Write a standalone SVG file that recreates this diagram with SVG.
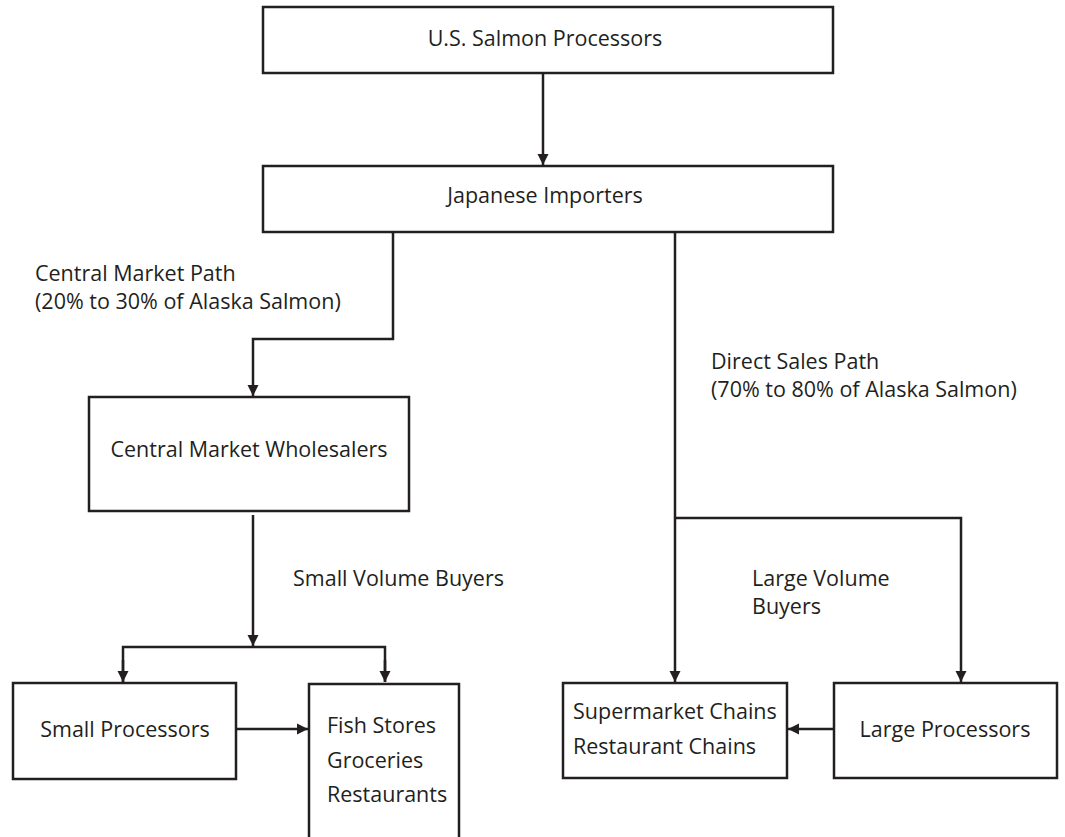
<svg xmlns="http://www.w3.org/2000/svg" width="1065" height="837" viewBox="0 0 1065 837">
<defs>
<style>
.box{fill:#fff;stroke:#231f20;stroke-width:2.5}
.ln{fill:none;stroke:#231f20;stroke-width:2.5}
text{font-family:"Open Sans","Noto Sans",sans-serif;font-size:21.5px;fill:#231f20}
.c{text-anchor:middle}
</style>
<marker id="ah" viewBox="0 0 10 10" refX="10" refY="5" markerWidth="4.5" markerHeight="4.5" orient="auto" markerUnits="strokeWidth">
<path d="M0,0 L10,5 L0,10 z" fill="#231f20"/>
</marker>
</defs>
<rect width="1065" height="837" fill="#fff"/>
<g id="connectors">
<line class="ln" x1="543" y1="73" x2="543" y2="165" marker-end="url(#ah)"/>
<polyline class="ln" points="393,232 393,339 253,339 253,396" marker-end="url(#ah)"/>
<line class="ln" x1="675" y1="232" x2="675" y2="682" marker-end="url(#ah)"/>
<polyline class="ln" points="675,518 961,518 961,682" marker-end="url(#ah)"/>
<line class="ln" x1="253" y1="515" x2="253" y2="646" marker-end="url(#ah)"/>
<polyline class="ln" points="123,682 123,647 385,647 385,682" fill="none"/>
<line class="ln" x1="123" y1="660" x2="123" y2="682" marker-end="url(#ah)"/>
<line class="ln" x1="385" y1="660" x2="385" y2="682" marker-end="url(#ah)"/>
<line class="ln" x1="236" y1="729" x2="308" y2="729" marker-end="url(#ah)"/>
<line class="ln" x1="834" y1="729" x2="788" y2="729" marker-end="url(#ah)"/>
</g>
<g id="lbl-central">
<text x="35" y="281">Central Market Path</text>
<text x="35" y="309">(20% to 30% of Alaska Salmon)</text>
</g>
<g id="lbl-direct">
<text x="711" y="369">Direct Sales Path</text>
<text x="711" y="397">(70% to 80% of Alaska Salmon)</text>
</g>
<g id="lbl-small">
<text x="293" y="586">Small Volume Buyers</text>
</g>
<g id="lbl-large">
<text x="752" y="586">Large Volume</text>
<text x="752" y="614">Buyers</text>
</g>
<g id="n-us">
<rect class="box" x="263" y="7" width="570" height="66"/>
<text class="c" x="545" y="46">U.S. Salmon Processors</text>
</g>
<g id="n-jp">
<rect class="box" x="263" y="166" width="570" height="66"/>
<text class="c" x="545" y="203">Japanese Importers</text>
</g>
<g id="n-cmw">
<rect class="box" x="89" y="397" width="320" height="114"/>
<text class="c" x="249" y="457">Central Market Wholesalers</text>
</g>
<g id="n-sp">
<rect class="box" x="13" y="683" width="223" height="96"/>
<text class="c" x="125" y="737">Small Processors</text>
</g>
<g id="n-fish">
<rect class="box" x="309" y="684" width="150" height="160"/>
<text x="327" y="733">Fish Stores</text>
<text x="327" y="768">Groceries</text>
<text x="327" y="802">Restaurants</text>
</g>
<g id="n-super">
<rect class="box" x="563" y="683" width="224" height="95"/>
<text x="573" y="719">Supermarket Chains</text>
<text x="573" y="754">Restaurant Chains</text>
</g>
<g id="n-lp">
<rect class="box" x="834" y="683" width="223" height="95"/>
<text class="c" x="945" y="737">Large Processors</text>
</g>
</svg>
